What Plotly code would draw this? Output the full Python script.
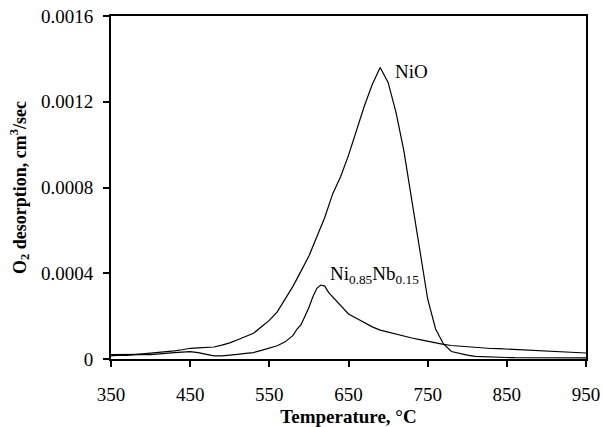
import plotly.graph_objects as go

# NiO: temperature (°C) and O2 desorption rate (cm3/sec)
nio_t = [350, 360, 370, 380, 390, 400, 410, 420, 430, 440,
         450, 460, 470, 480, 490, 500, 510, 520, 530, 540,
         550, 560, 570, 580, 590, 600, 610, 620, 630, 640,
         650, 660, 670, 680, 690, 700, 710, 720, 730, 740,
         750, 760, 770, 780, 790, 800, 810, 820, 830, 840,
         850, 860, 870, 880, 890, 900, 910, 920, 930, 940, 950]
nio = [0.000015, 0.000018, 0.000017, 0.000020, 0.000024, 0.000028, 0.000030, 0.000033, 0.000038, 0.000043,
       0.000050, 0.000052, 0.000055, 0.000056, 0.000065, 0.000075, 0.000090, 0.000105, 0.000120, 0.000150,
       0.000180, 0.000220, 0.000280, 0.000340, 0.000410, 0.000480, 0.000570, 0.000660, 0.000770, 0.000850,
       0.000950, 0.001070, 0.001180, 0.001280, 0.001360, 0.001290, 0.001150, 0.000970, 0.000745, 0.000510,
       0.000280, 0.000140, 0.000070, 0.000035, 0.000025, 0.000018, 0.000012, 0.000010, 0.000008, 0.000008,
       0.000007, 0.000006, 0.000006, 0.000005, 0.000006, 0.000005, 0.000005, 0.000005, 0.000004, 0.000005, 0.000005]

# Ni0.85Nb0.15: temperature (°C) and O2 desorption rate (cm3/sec)
ninb_t = [350, 360, 370, 380, 390, 400, 410, 420, 430, 440,
          450, 460, 470, 480, 490, 500, 510, 520, 530, 540,
          550, 560, 570, 580, 585, 590, 595, 600, 605, 610, 615, 620, 625, 630, 640,
          650, 660, 670, 680, 690, 700, 710, 720, 730, 740,
          750, 760, 770, 780, 790, 800, 810, 820, 830, 840,
          850, 860, 870, 880, 890, 900, 910, 920, 930, 940, 950]
ni_nb = [0.000020, 0.000021, 0.000022, 0.000022, 0.000022, 0.000020, 0.000024, 0.000027, 0.000030, 0.000032,
         0.000034, 0.000030, 0.000022, 0.000015, 0.000015, 0.000020, 0.000022, 0.000026, 0.000030, 0.000040,
         0.000050, 0.000062, 0.000080, 0.000110, 0.000140, 0.000160, 0.000200, 0.000240, 0.000290, 0.000330, 0.000345, 0.000340, 0.000310, 0.000290, 0.000245,
         0.000210, 0.000190, 0.000170, 0.000150, 0.000135, 0.000125, 0.000115, 0.000105, 0.000098, 0.000090,
         0.000082, 0.000075, 0.000068, 0.000063, 0.000060, 0.000057, 0.000053, 0.000050, 0.000049, 0.000048,
         0.000046, 0.000043, 0.000042, 0.000040, 0.000038, 0.000035, 0.000034, 0.000032, 0.000031, 0.000030, 0.000028]

x_ticks = [350, 450, 550, 650, 750, 850, 950]
y_ticks = [0, 0.0004, 0.0008, 0.0012, 0.0016]
y_tick_text = ["0", "0.0004", "0.0008", "0.0012", "0.0016"]

FONT = "Liberation Serif, Times New Roman, serif"

fig = go.Figure()
fig.add_trace(go.Scatter(x=nio_t, y=nio, mode="lines",
                         line=dict(color="black", width=1.2), name="NiO"))
fig.add_trace(go.Scatter(x=ninb_t, y=ni_nb, mode="lines",
                         line=dict(color="black", width=1.2), name="Ni0.85Nb0.15"))

i_peak = nio.index(max(nio))
fig.add_annotation(x=nio_t[i_peak], y=nio[i_peak], text="NiO", showarrow=False,
                   xanchor="left", yanchor="top", xshift=13, yshift=8,
                   font=dict(family=FONT, size=19, color="black"))
j_peak = ni_nb.index(max(ni_nb))
fig.add_annotation(x=ninb_t[j_peak], y=ni_nb[j_peak], text="Ni<sub>0.85</sub>Nb<sub>0.15</sub>",
                   showarrow=False, xanchor="left", yanchor="bottom", xshift=7, yshift=-4,
                   font=dict(family=FONT, size=19, color="black"))

fig.update_layout(
    width=603, height=427,
    margin=dict(l=111, r=17, t=16, b=68),
    paper_bgcolor="white", plot_bgcolor="white",
    showlegend=False,
    font=dict(family=FONT, size=19, color="black"),
)
fig.update_xaxes(
    range=[350, 950], tickvals=x_ticks, automargin=False,
    showgrid=False, zeroline=False,
    showline=True, linecolor="black", linewidth=2, mirror=True,
    ticks="outside", ticklen=6, tickwidth=2, tickcolor="black",
    ticklabelstandoff=11,
    title=dict(text="<b>Temperature, °C</b>", font=dict(family=FONT, size=19), standoff=16),
)
fig.update_yaxes(
    range=[0, 0.0016], tickvals=y_ticks, ticktext=y_tick_text, automargin=False,
    showgrid=False, zeroline=False,
    showline=True, linecolor="black", linewidth=2, mirror=True,
    ticks="outside", ticklen=6, tickwidth=2, tickcolor="black",
    ticklabelstandoff=6,
    title=dict(text="<b>O<sub>2</sub> desorption, cm<sup>3</sup>/sec</b>",
               font=dict(family=FONT, size=18), standoff=10),
)

fig.write_html("out.html")
